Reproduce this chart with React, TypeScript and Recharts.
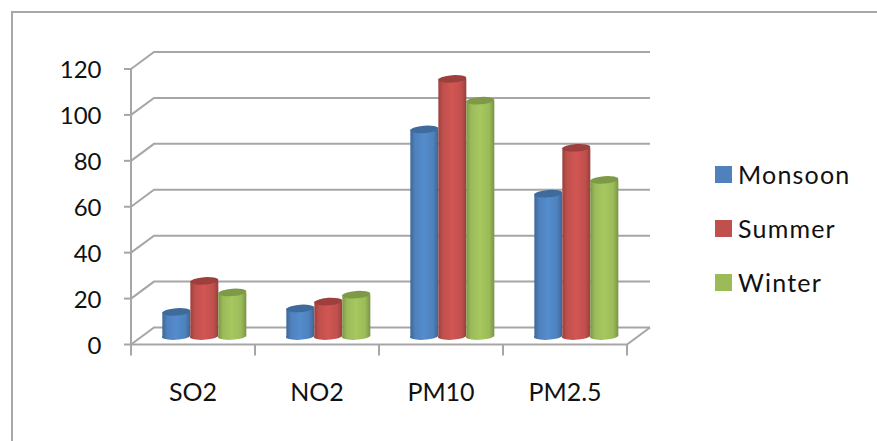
import { BarChart, Bar, XAxis, YAxis, CartesianGrid, Legend } from "recharts";

const categories = ["SO2", "NO2", "PM10", "PM2.5"];
const monsoon = [10.5, 12, 90, 62];
const summer = [24, 15, 112, 82];
const winter = [19, 18, 102.5, 68];
const yTicks = [0, 20, 40, 60, 80, 100, 120];

const data = categories.map((name, i) => ({
  name,
  Monsoon: monsoon[i],
  Summer: summer[i],
  Winter: winter[i],
}));

// depth of the fake 3d box, bars sit in the middle of it
const DX = 11.5;
const DY = 8.5;
const GRID = "#a6a6a6";
const FONT = "Lato, sans-serif";

const colors: any = {
  Monsoon: { fill: "#4f81bd", top: "#3f6a9c", id: "cylBlue", edge: "#3c6594", lit: "#538ccd" },
  Summer: { fill: "#c0504d", top: "#9c3f3d", id: "cylRed", edge: "#96403d", lit: "#d15653" },
  Winter: { fill: "#9bbb59", top: "#7f9a47", id: "cylGreen", edge: "#7a9446", lit: "#a6c85e" },
};

const Cylinder = ({ x, y, width, height, dataKey }: any) => {
  const c = colors[dataKey];
  const rx = width / 2;
  const ry = 3.7;
  const d = `M${x},${y} L${x},${y + height} A${rx},${ry} -4 0 0 ${x + width},${y + height} L${x + width},${y} Z`;
  return (
    <g>
      <path d={d} fill={`url(#${c.id})`} />
      <ellipse
        cx={x + rx}
        cy={y}
        rx={rx}
        ry={ry}
        fill={c.top}
        transform={`rotate(-4 ${x + rx} ${y})`}
      />
    </g>
  );
};

const GridLine = (props: any) => {
  const { x1, y1, x2, x, y, width, height } = props;
  const left = x ?? x1;
  const right = x !== undefined ? x + width : x2;
  const isFloor = Math.abs(y + height - y1) < 1;
  return (
    <g key={`grid-${y1}`} fill="none" stroke={GRID} strokeWidth={2}>
      <path d={`M${left - DX},${y1 + DY} L${left + DX},${y1 - DY} L${right + DX},${y1 - DY}`} />
      {isFloor && (
        <path d={`M${left - DX},${y1 + DY} L${right - DX},${y1 + DY} L${right + DX},${y1 - DY}`} />
      )}
    </g>
  );
};

const YTick = ({ x, y, payload }: any) => {
  const front = y + DY;
  return (
    <g>
      <line x1={x - DX - 7} y1={front} x2={x - DX} y2={front} stroke={GRID} strokeWidth={2} />
      {payload.value > 0 && (
        <line x1={x - DX} y1={front} x2={x - DX} y2={front + 46} stroke={GRID} strokeWidth={2} />
      )}
      <text
        x={x - DX - 29.5}
        y={front + 9}
        textAnchor="end"
        fontFamily={FONT}
        fontSize={24}
        fill="#111"
      >
        {payload.value}
      </text>
    </g>
  );
};

const XTick = ({ x, y, payload, index }: any) => {
  const band = 124;
  const left = x - DX - band / 2;
  const right = x - DX + band / 2;
  const base = y + DY;
  return (
    <g>
      <line x1={left} y1={base} x2={left} y2={base + 11} stroke={GRID} strokeWidth={2} />
      {index === categories.length - 1 && (
        <line x1={right} y1={base} x2={right} y2={base + 11} stroke={GRID} strokeWidth={2} />
      )}
      <text
        x={x - DX}
        y={base + 56}
        textAnchor="middle"
        fontFamily={FONT}
        fontSize={25}
        fill="#111"
      >
        {payload.value}
      </text>
    </g>
  );
};

const LegendBox = ({ payload }: any) => (
  <div>
    {(payload || []).map((p: any) => (
      <div key={p.value} style={{ display: "flex", alignItems: "center", height: 54 }}>
        <span style={{ width: 17, height: 17, background: p.color, marginRight: 6 }} />
        <span style={{ fontFamily: FONT, fontSize: 25, color: "#111", letterSpacing: 1.2 }}>
          {p.value}
        </span>
      </div>
    ))}
  </div>
);

const gradient = (key: string) => {
  const c = colors[key];
  return (
    <linearGradient key={c.id} id={c.id} x1="0" y1="0" x2="1" y2="0">
      <stop offset="0%" stopColor={c.edge} />
      <stop offset="18%" stopColor={c.fill} />
      <stop offset="50%" stopColor={c.lit} />
      <stop offset="82%" stopColor={c.fill} />
      <stop offset="100%" stopColor={c.edge} />
    </linearGradient>
  );
};

export default function App() {
  return (
    <div
      style={{
        position: "absolute",
        left: 0,
        top: 0,
        width: 877,
        height: 441,
        overflow: "hidden",
        background: "#fff",
      }}
    >
      <div
        style={{
          position: "absolute",
          left: 11,
          top: 11,
          width: 900,
          height: 500,
          border: "2px solid #a8a8a8",
        }}
      />
      <BarChart
        width={877}
        height={441}
        data={data}
        barCategoryGap="16%"
        barGap={0}
        margin={{ top: 60.5, right: 238.5, bottom: 104, left: 141.5 }}
      >
        <defs>{Object.keys(colors).map(gradient)}</defs>
        <CartesianGrid horizontal={GridLine} vertical={false} />
        <XAxis
          dataKey="name"
          height={1}
          axisLine={false}
          tickLine={false}
          tickSize={0}
          tickMargin={0}
          interval={0}
          tick={<XTick />}
        />
        <YAxis
          width={1}
          domain={[0, 120]}
          ticks={yTicks}
          axisLine={false}
          tickLine={false}
          tickSize={0}
          tickMargin={0}
          interval={0}
          tick={<YTick />}
        />
        <Legend
          layout="vertical"
          align="center"
          verticalAlign="middle"
          content={<LegendBox />}
          wrapperStyle={{ left: 715, top: 147, width: 160, bottom: "auto" }}
        />
        {Object.keys(colors).map((key) => (
          <Bar
            key={key}
            dataKey={key}
            fill={colors[key].fill}
            shape={<Cylinder dataKey={key} />}
            isAnimationActive={false}
          />
        ))}
      </BarChart>
    </div>
  );
}
